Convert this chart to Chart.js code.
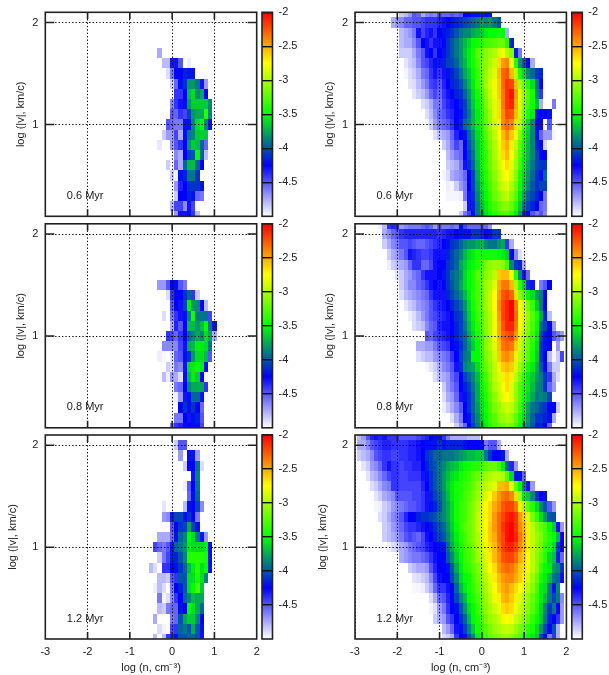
<!DOCTYPE html>
<html lang="en">
<head>
<meta charset="UTF-8">
<title>Velocity vs density</title>
<style>
    body { margin: 0; background: #fff; }
    canvas { position: absolute; }
</style>
</head>
<body>
<script src="https://cdn.jsdelivr.net/npm/chart.js"></script>
<script>
// log |v| of each row, top to bottom. Every row below is [first log n, values at 0.1 steps...]
const vBins = [2.1, 2.0, 1.9, 1.8, 1.7, 1.6, 1.5, 1.4, 1.3, 1.2, 1.1, 1.0, 0.9, 0.8, 0.7, 0.6, 0.5, 0.4, 0.3, 0.2, 0.1];
const nTicks = [-3, -2, -1, 0, 1, 2];
const vTicks = [1, 2];
const colorTicks = [-2, -2.5, -3, -3.5, -4, -4.5];
const paletteStops = [-5, -4.25, -3.5, -2.75, -2];
const paletteColors = [[255, 255, 255], [0, 0, 255], [0, 255, 0], [255, 255, 0], [255, 0, 0]];
const timeLabels = ['0.6 Myr', '0.8 Myr', '1.2 Myr'];

const left06 = [
    [], [], [], [],
    [-0.3, -4.75],
    [-0.2, -4.8, -4.8, -4.3, -4.3, -4.5, null, -4.95],
    [-0.1, -4.9, -4.6, -4.25, -4.25, -4.15, -4.2, -4.2],
    [0, -4.85, -4.55, -4.2, -4.1, -3.8, -3.8, -3.9, -4.3, -4.7],
    [0.1, -4.4, -4.4, -4.25, -3.7, -3.6, -3.85, -3.75, -4.25],
    [0, -4.65, -4.4, -4.3, -4.2, -3.8, -3.65, -3.65, -3.65, -3.65, -3.85],
    [0, -4.5, -4.55, -4.4, -4.45, -4.05, -3.8, -3.75, -3.75, -3.4, -3.85],
    [-0.1, -4.5, -4.55, -4.6, -4.6, -4.2, -4.2, -3.85, -3.6, -3.5, -3.85, -4.2],
    [-0.2, -4.85, -4.7, -4.7, -4.45, -4.75, -4.2, -3.9, -3.85, -3.65, -3.65, -3.65],
    [-0.3, -4.93, null, null, -4.7, -4.5, -4.4, -4.25, -3.8, -3.65, -3.7, -3.95, -4.55],
    [0.1, -4.65, -4.75, -4.25, -4.05, -4.0, -3.5, -3.95, -4.8],
    [-0.1, -4.85, null, -4.55, -4.75, -3.95, -3.7, -3.7, -3.95, -4.25],
    [0, -4.85, -4.95, -4.2, -4.15, -3.9, -3.9, -4.1],
    [0.1, -4.7, -4.35, -4.25, -4.1, -4.1, -4.1, -4.2],
    [0.1, -4.85, -4.25, -4.25, -4.15, -4.2, -4.55, -4.6],
    [0, -4.8, -4.45, -4.45, -4.65, -4.3, -4.45],
    [0.1, -4.7, -4.3, -4.3, -4.2, -4.4, -4.8]
];
const right06 = [
    [-1.9, -4.85, -4.8, -4.7, -4.5, -4.55, -4.75, -4.65, -4.6, -4.65, -4.5, -4.55, -4.55, -4.5, -4.55, -4.5, -4.25, -4.25, -4.2, -4.2, -4.15, -4.2, -4.2],
    [-2.1, -4.75, -4.7, -4.65, -4.55, -4.55, -4.5, -4.5, -4.45, -4.4, -4.4, -4.4, -4.35, -4.3, -4.25, -4.2, -4.15, -4.1, -4.05, -4.0, -3.95, -3.9, -3.8, -3.85, -3.8, -3.9, -4.0],
    [-1.9, -4.8, -4.75, -4.7, -4.6, -4.3, -4.45, -4.35, -4.3, -4.4, -4.25, -4.2, -4.15, -4.1, -4.0, -3.9, -3.85, -3.85, -3.75, -3.7, -3.65, -3.55, -3.5, -3.5, -3.45, -3.5, -4.75],
    [-1.9, -4.8, -4.75, -4.75, -4.65, -4.5, -4.25, -4.3, -4.4, -4.3, -4.3, -4.25, -4.1, -4.0, -3.9, -3.8, -3.7, -3.6, -3.5, -3.45, -3.4, -3.3, -3.3, -3.25, -3.2, -3.2, -3.4, -4.15],
    [-1.9, -4.85, -4.85, -4.85, -4.75, -4.6, -4.5, -4.3, -4.25, -4.4, -4.25, -4.2, -4.1, -4.0, -3.9, -3.8, -3.65, -3.55, -3.45, -3.25, -3.2, -3.1, -3.05, -3.0, -2.85, -2.8, -3.0, -3.1, -4.15, -4.6],
    [-1.8, -4.92, -4.85, -4.8, -4.65, -4.5, -4.45, -4.35, -4.2, -4.3, -4.15, -4.05, -4.05, -3.95, -3.8, -3.7, -3.55, -3.45, -3.3, -3.15, -3.1, -3.0, -2.9, -2.65, -2.45, -2.4, -2.75, -3.4, -3.8, -4.0, -4.25, -4.75],
    [-1.8, -4.97, -4.9, -4.85, -4.75, -4.6, -4.55, -4.4, -4.3, -4.4, -4.3, -4.2, -4.15, -4.05, -3.9, -3.75, -3.65, -3.5, -3.35, -3.2, -3.05, -2.95, -2.85, -2.55, -2.3, -2.25, -2.55, -2.95, -3.4, -3.6, -3.85, -3.95, -4.1, -4.15],
    [-1.7, -4.92, -4.9, -4.8, -4.7, -4.6, -4.45, -4.4, -4.5, -4.35, -4.25, -4.15, -4.1, -4.0, -3.85, -3.7, -3.55, -3.35, -3.2, -3.05, -2.9, -2.8, -2.6, -2.3, -2.15, -2.2, -2.55, -3.0, -3.2, -3.4, -3.6, -3.9, -4.25],
    [-1.6, -4.92, -4.85, -4.8, -4.7, -4.55, -4.45, -4.55, -4.4, -4.3, -4.25, -4.15, -4.1, -3.95, -3.8, -3.6, -3.45, -3.3, -3.1, -2.95, -2.8, -2.6, -2.35, -2.15, -2.05, -2.45, -2.85, -3.05, -3.25, -3.45, -3.85, -4.4],
    [-1.4, -4.9, -4.85, -4.75, -4.6, -4.6, -4.45, -4.35, -4.3, -4.25, -4.15, -4.05, -3.85, -3.65, -3.5, -3.35, -3.15, -3.0, -2.85, -2.65, -2.35, -2.15, -2.1, -2.5, -2.85, -3.1, -3.3, -3.45, -3.7, -4.75, null, null, -4.6],
    [-1.3, -4.9, -4.8, -4.65, -4.55, -4.5, -4.4, -4.35, -4.25, -4.2, -4.05, -3.9, -3.7, -3.55, -3.4, -3.2, -3.05, -2.85, -2.65, -2.4, -2.2, -2.25, -2.55, -2.9, -3.15, -3.4, -3.55, -4.2, -4.25, -4.25, -4.2],
    [-1.3, -4.97, -4.85, -4.7, -4.6, -4.55, -4.5, -4.4, -4.25, -4.15, -3.95, -3.85, -3.7, -3.55, -3.4, -3.2, -3.05, -2.9, -2.7, -2.4, -2.3, -2.4, -2.65, -2.95, -3.25, -3.6, -3.85, -4.25, -4.25, null, -4.5],
    [-1.1, -4.9, -4.8, -4.75, -4.7, -4.55, -4.35, -4.25, -4.2, -3.95, -3.8, -3.6, -3.45, -3.25, -3.1, -2.95, -2.75, -2.55, -2.4, -2.6, -2.8, -3.1, -3.4, -3.65, -3.85, -4.2, -4.55, -4.7, -4.7, -4.97],
    [-0.9, -4.85, -4.75, -4.6, -4.45, -4.55, -4.25, -4.0, -3.85, -3.65, -3.5, -3.3, -3.15, -3.0, -2.8, -2.6, -2.5, -2.7, -2.95, -3.2, -3.45, -3.7, -3.85, -4.15, -4.25, -4.88],
    [-0.8, -4.8, -4.7, -4.6, -4.55, -4.25, -4.05, -3.9, -3.65, -3.5, -3.35, -3.2, -3.0, -2.85, -2.65, -2.55, -2.75, -3.0, -3.25, -3.5, -3.7, -3.85, -4.05, -4.25, -4.25],
    [-0.8, -4.85, -4.8, -4.75, -4.6, -4.3, -4.1, -3.95, -3.7, -3.5, -3.35, -3.2, -3.05, -2.9, -2.75, -2.65, -2.85, -3.05, -3.3, -3.55, -3.75, -3.9, -4.05, -4.1, -4.1],
    [-0.9, -4.97, -4.9, -4.75, -4.7, -4.65, -4.55, -4.25, -4.05, -3.75, -3.55, -3.4, -3.25, -3.1, -2.95, -2.8, -2.75, -2.9, -3.1, -3.4, -3.6, -3.8, -3.95, -4.1, -4.2, -3.95],
    [-0.8, -4.95, -4.97, -4.85, -4.7, -4.6, -4.25, -4.05, -3.8, -3.6, -3.45, -3.3, -3.15, -3.0, -2.9, -2.85, -3.0, -3.15, -3.45, -3.65, -3.85, -4.0, -4.1, -4.05, -4.05],
    [-0.8, -4.97, -4.97, -4.97, -4.95, -4.6, -4.3, -4.1, -3.85, -3.65, -3.5, -3.35, -3.2, -3.1, -3.0, -2.95, -3.1, -3.25, -3.55, -3.75, -3.95, -4.05, -4.15, -4.25, -4.6],
    [-0.4, -4.85, -4.3, -4.15, -3.9, -3.7, -3.55, -3.4, -3.3, -3.2, -3.1, -3.1, -3.2, -3.4, -3.65, -3.9, -4.05, -4.15, -4.25, -4.55, -4.6],
    [-0.5, -4.85, -4.6, -4.45, -4.2, -3.9, -3.75, -3.6, -3.5, -3.4, -3.3, -3.25, -3.25, -3.35, -3.55, -3.8, -4.15, -4.25, -4.5, -4.6, -4.5, -4.65]
];
const left08 = [
    [], [], [], [], [], [],
    [-0.3, -4.7, -4.7, -4.5, -4.25, -4.2, -4.5, -4.6],
    [-0.1, -4.9, -4.4, -4.25, -4.25, -4.1, -3.95, -4.4, -4.85],
    [0, -4.5, -4.25, -4.3, -4.05, -3.55, -3.8, -3.85, -4.25, -4.8],
    [-0.2, -4.9, null, -4.6, -4.4, -4.3, -4.2, -3.85, -3.45, -3.9, -3.9, -3.9, -4.45],
    [0, -4.75, -4.35, -4.5, -4.25, -3.7, -3.7, -3.8, -3.7, -3.5, -3.9, -4.2],
    [-0.1, -4.4, -4.45, -4.55, -4.4, -4.25, -3.95, -3.85, -3.75, -3.85, -3.6, -3.75, -4.75],
    [-0.2, -4.65, -4.65, -4.65, -4.65, -4.45, -4.3, -3.75, -3.7, -3.55, -3.55, -3.6, -3.9],
    [-0.3, -4.95, -4.98, null, -4.9, -4.55, -4.5, -4.2, -4.1, -3.8, -3.6, -3.6, -3.7, -4.5],
    [-0.1, -4.85, -4.9, -4.6, -4.65, -4.3, -3.6, -3.55, -3.5, -3.55, -4.2],
    [-0.2, -4.8, -4.95, -4.7, -4.75, -4.9, -4.2, -3.7, -3.55, -3.65, -4.25, -4.97],
    [0.1, -4.6, -4.55, -4.25, -3.85, -3.75, -3.75, -3.75, -4.4],
    [0.1, -4.95, -4.7, -4.3, -4.2, -3.95, -3.95, -4.2, -4.97],
    [0.2, -4.25, -4.1, -4.2, -4.1, -4.25, -4.55],
    [0.1, -4.6, -4.6, -4.25, -4.3, -4.2, -4.15, -4.5],
    [0, -4.6, -4.4, -4.35, -4.2, -4.25, -4.2, -4.2, -4.45]
];
const right08 = [
    [-2.4, -4.95, -4.8, -4.4, -4.35, -4.4, -4.7, -4.65, -4.6, -4.6, -4.6, -4.55, -4.5, -4.55, -4.7, -4.55, -4.6, -4.6, -4.55, -4.6, -4.2, -4.45, -4.55, -4.55, -4.55, -4.5, -4.55, -4.7],
    [-2.3, -4.75, -4.65, -4.55, -4.5, -4.4, -4.35, -4.35, -4.35, -4.35, -4.35, -4.35, -4.35, -4.35, -4.4, -4.35, -4.3, -4.3, -4.25, -4.2, -4.2, -4.2, -4.1, -4.1, -4.15, -4.25, -4.2, -4.1, -4.1],
    [-2.3, -4.85, -4.75, -4.65, -4.6, -4.5, -4.5, -4.45, -4.5, -4.55, -4.55, -4.5, -4.45, -4.4, -4.35, -4.25, -4.2, -4.1, -4.05, -3.95, -3.85, -3.8, -3.8, -3.75, -3.7, -3.85, -3.9, -3.9, -3.8, -3.75, -4.4, -4.75],
    [-2.2, -4.85, -4.75, -4.7, -4.6, -4.5, -4.3, -4.35, -4.4, -4.45, -4.45, -4.4, -4.3, -4.3, -4.3, -4.15, -4.05, -3.95, -3.85, -3.7, -3.6, -3.55, -3.45, -3.45, -3.45, -3.45, -3.45, -3.5, -3.55, -3.65, -4.25, -4.65, -4.9],
    [-2.2, -4.95, -4.85, -4.8, -4.75, -4.7, -4.55, -4.4, -4.4, -4.55, -4.55, -4.45, -4.3, -4.25, -4.25, -4.1, -4.05, -3.95, -3.75, -3.65, -3.55, -3.5, -3.4, -3.3, -3.15, -3.1, -3.05, -3.05, -3.1, -3.3, -3.85, -4.1, -4.15, -4.75],
    [-2.0, -4.92, -4.85, -4.75, -4.7, -4.6, -4.55, -4.4, -4.3, -4.3, -4.3, -4.25, -4.2, -4.1, -3.95, -3.9, -3.8, -3.6, -3.5, -3.4, -3.25, -3.25, -3.1, -3.05, -2.95, -2.6, -2.55, -2.55, -2.8, -3.4, -3.85, -4.3, -4.55],
    [-1.9, -4.85, -4.75, -4.65, -4.65, -4.55, -4.5, -4.4, -4.3, -4.25, -4.3, -4.25, -4.1, -4.0, -3.9, -3.75, -3.6, -3.5, -3.4, -3.3, -3.2, -3.05, -3.0, -2.85, -2.5, -2.35, -2.35, -2.55, -3.0, -3.35, -3.6, -4.1, -4.3, null, -4.6, -4.5, -4.25],
    [-1.9, -4.9, -4.8, -4.75, -4.7, -4.65, -4.6, -4.55, -4.4, -4.3, -4.3, -4.3, -4.15, -4.05, -3.95, -3.85, -3.7, -3.55, -3.4, -3.3, -3.2, -3.05, -2.95, -2.75, -2.45, -2.25, -2.2, -2.3, -2.65, -3.1, -3.25, -3.5, -3.6, -3.8, -3.9, -4.25],
    [-1.8, -4.92, -4.85, -4.8, -4.7, -4.65, -4.6, -4.5, -4.4, -4.35, -4.3, -4.25, -4.15, -4.05, -3.95, -3.8, -3.6, -3.45, -3.3, -3.2, -3.05, -2.95, -2.75, -2.4, -2.2, -2.1, -2.0, -2.35, -2.75, -2.9, -3.15, -3.35, -3.65, -3.9, -4.25],
    [-1.7, -4.95, -4.9, -4.8, -4.7, -4.6, -4.5, -4.45, -4.4, -4.35, -4.3, -4.25, -4.1, -4.05, -3.85, -3.65, -3.5, -3.35, -3.25, -3.1, -3.0, -2.8, -2.45, -2.2, -2.1, -2.0, -2.3, -2.75, -2.85, -3.05, -3.25, -3.45, -3.75, -4.15, -4.8],
    [-1.6, -4.9, -4.85, -4.8, -4.65, -4.55, -4.5, -4.35, -4.3, -4.3, -4.25, -4.15, -4.05, -3.9, -3.7, -3.55, -3.4, -3.25, -3.1, -3.0, -2.8, -2.5, -2.25, -2.1, -2.1, -2.35, -2.75, -2.9, -3.1, -3.3, -3.5, -3.95, -4.05, -4.25, -4.7],
    [-1.3, -4.5, -4.55, -4.45, -4.4, -4.35, -4.3, -4.25, -4.15, -4.05, -3.95, -3.75, -3.6, -3.45, -3.3, -3.1, -3.0, -2.8, -2.5, -2.3, -2.25, -2.2, -2.45, -2.85, -2.95, -3.15, -3.35, -3.55, -4.05, -4.2, -4.25, -4.5, -4.6, -4.7],
    [-1.5, -4.75, -4.75, -4.7, -4.7, -4.6, -4.5, -4.45, -4.4, -4.25, -4.2, -4.1, -3.95, -3.8, -3.65, -3.5, -3.3, -3.1, -3.0, -2.85, -2.55, -2.35, -2.3, -2.35, -2.6, -2.9, -3.05, -3.2, -3.4, -3.6, -4.1, -4.2, -4.25, null, -4.7],
    [-1.5, -4.9, -4.85, -4.8, -4.8, -4.7, -4.65, -4.6, -4.55, -4.4, -4.25, -4.05, -3.9, -3.85, -3.5, -3.5, -3.35, -3.15, -3.05, -2.9, -2.6, -2.45, -2.4, -2.5, -2.7, -2.95, -3.1, -3.25, -3.45, -3.65, -4.1, -4.25, -4.8, -4.97, -4.85, -4.45],
    [-1.3, -4.97, -4.92, -4.85, -4.75, -4.65, -4.6, -4.5, -4.3, -4.1, -3.85, -3.8, -3.75, -3.6, -3.35, -3.2, -3.1, -2.95, -2.7, -2.6, -2.55, -2.6, -2.85, -3.05, -3.2, -3.4, -3.55, -3.75, -4.0, -4.25, -4.6, -4.85, -4.85],
    [-1.1, -4.9, -4.8, -4.75, -4.7, -4.55, -4.45, -4.25, -4.05, -3.95, -3.85, -3.7, -3.45, -3.3, -3.15, -2.95, -2.85, -2.7, -2.65, -2.7, -2.95, -3.15, -3.35, -3.55, -3.65, -3.8, -3.9, -4.1, -4.4, -4.75, -4.9],
    [-0.9, -4.85, -4.7, -4.6, -4.5, -4.25, -4.15, -4.05, -3.9, -3.75, -3.5, -3.35, -3.2, -3.0, -2.9, -2.75, -2.65, -2.85, -3.05, -3.25, -3.4, -3.55, -3.7, -3.85, -3.9, -4.1, -4.55, -4.7],
    [-0.9, -4.9, -4.75, -4.7, -4.55, -4.3, -4.2, -4.1, -3.95, -3.75, -3.55, -3.4, -3.25, -3.1, -2.95, -2.8, -2.75, -2.85, -3.05, -3.25, -3.45, -3.6, -3.75, -3.9, -3.85, -3.9, -4.05],
    [-0.9, -4.95, -4.85, -4.75, -4.65, -4.5, -4.25, -4.1, -3.95, -3.8, -3.6, -3.45, -3.3, -3.15, -3.05, -2.95, -2.9, -2.95, -3.1, -3.3, -3.55, -3.75, -3.9, -3.95, -4.05, -4.1, -4.25, -4.25, -4.85],
    [-0.7, -4.9, -4.75, -4.6, -4.25, -4.2, -4.0, -3.85, -3.65, -3.5, -3.35, -3.25, -3.1, -3.05, -3.0, -3.05, -3.2, -3.4, -3.6, -3.8, -3.95, -4.1, -4.1, -4.15, -4.2, -4.75],
    [-0.6, -4.85, -4.7, -4.55, -4.25, -4.05, -3.9, -3.7, -3.55, -3.4, -3.3, -3.2, -3.15, -3.1, -3.15, -3.3, -3.5, -3.7, -3.85, -4.0, -4.2, -4.15, -4.25, -4.55]
];
const left12 = [
    [],
    [0.1, -4.85, -4.5, -4.5],
    [0.2, -4.7, null, -4.2, -4.2, -4.7],
    [0.3, -4.85, -4.25, -4.25, -3.9, -4.9],
    [0.5, -4.3, -3.85],
    [0.3, -4.95, -4.5, -4.25, -3.9],
    [0.4, -4.55, -4.2, -3.95],
    [-0.2, -4.92, null, null, null, null, -4.8, -4.2, -4.25, -4.05, -4.65],
    [-0.2, -4.7, -4.65, -4.3, -4.05, -4.05, -4.2, -4.1, -4.25, -4.6],
    [0, -4.5, -4.25, -4.1, -4.05, -3.75, -4.05, -4.2],
    [-0.3, -4.75, -4.75, -4.75, -4.55, -4.2, -3.95, -3.85, -3.5, -3.6, -3.9, -4.3, -4.7],
    [-0.4, -4.45, -4.55, -4.6, -4.5, -4.3, -3.95, -3.9, -3.8, -3.55, -3.6, -3.6, -3.6, -3.55, -4.2],
    [-0.3, -4.85, -4.6, -4.45, -4.15, -4.15, -4.0, -3.85, -3.4, -3.4, -3.4, -3.4, -3.45, -4.2],
    [-0.5, -4.8, -4.9, null, -4.4, -4.4, -4.25, -4.2, -4.1, -3.95, -3.7, -3.55, -3.4, -3.6, -3.5, -4.2],
    [-0.3, -4.8, -4.8, -4.85, -4.5, -4.4, -4.0, -4.0, -3.6, -3.6, -3.45, -3.6, -3.85],
    [-0.4, -4.95, -4.8, -4.9, null, -4.6, -4.25, -4.15, -4.0, -3.6, -3.5, -3.3, -3.65],
    [-0.3, -4.6, -4.97, -4.9, -4.65, -4.4, -4.25, -3.95, -3.85, -3.7, -3.75, -3.75],
    [-0.3, -4.8, -4.85, -4.6, -4.55, -4.55, -4.2, -4.25, -3.5, -3.6, -3.75, -3.95],
    [-0.4, -4.75, null, null, null, -4.6, -4.55, -4.0, -3.75, -3.65, -3.65, -3.85, -4.25],
    [-0.3, -4.9, -4.97, null, -4.45, -4.4, -3.95, -3.9, -4.0, -3.75, -4.0, -4.2],
    [-0.4, -4.8, null, -4.8, -4.4, -4.35, -4.2, -4, -4, -3.95, -3.95, -4.0, -4.3]
];
const right12 = [
    [-2.9, -4.8, -4.7, -4.5, -4.35, -4.3, -4.35, -4.3, -4.4, -4.4, -4.4, -4.5, -4.5, -4.5, -4.5, -4.45, -4.4, -4.35, -4.25, -4.2, -4.2, -4.4, -4.6, -4.75, -4.75, -4.75, -4.75, -4.8, -4.8, -4.8],
    [-2.9, -4.75, -4.75, -4.65, -4.5, -4.45, -4.4, -4.35, -4.35, -4.4, -4.4, -4.4, -4.4, -4.35, -4.35, -4.3, -4.25, -4.2, -4.2, -4.2, -4.1, -4.2, -4.15, -4.15, -4.15, -4.15, -4.2, -4.25, -4.25, -4.25, -4.25, -4.6, -4.5, -4.5, -4.75],
    [-2.9, -4.85, -4.8, -4.75, -4.65, -4.5, -4.45, -4.4, -4.4, -4.45, -4.45, -4.4, -4.4, -4.35, -4.35, -4.3, -4.25, -4.1, -4.05, -3.95, -3.95, -3.9, -3.9, -3.9, -3.85, -3.8, -3.75, -3.7, -3.7, -3.65, -3.65, -3.9, -4.1, -4.25, -4.25, -4.2, -4.75],
    [-2.8, -4.92, -4.85, -4.7, -4.65, -4.55, -4.4, -4.3, -4.4, -4.4, -4.45, -4.4, -4.4, -4.35, -4.35, -4.25, -4.15, -4.05, -4.0, -3.9, -3.85, -3.75, -3.7, -3.65, -3.55, -3.5, -3.45, -3.4, -3.4, -3.3, -3.25, -3.2, -3.2, -3.3, -3.55, -3.95, -4.35, -4.7],
    [-2.7, -4.92, -4.8, -4.75, -4.65, -4.55, -4.45, -4.4, -4.4, -4.45, -4.45, -4.4, -4.4, -4.4, -4.3, -4.2, -4.1, -4.0, -3.9, -3.8, -3.7, -3.6, -3.55, -3.45, -3.4, -3.35, -3.25, -3.2, -3.1, -3.05, -3.0, -2.95, -2.95, -3.0, -3.25, -3.6, -4.2, -4.2, -4.55],
    [-2.6, -4.9, -4.85, -4.75, -4.65, -4.6, -4.4, -4.4, -4.45, -4.45, -4.45, -4.45, -4.45, -4.35, -4.25, -4.1, -4.0, -3.9, -3.8, -3.65, -3.55, -3.45, -3.4, -3.35, -3.3, -3.2, -3.1, -3.0, -2.95, -2.9, -2.85, -2.55, -2.55, -2.5, -2.85, -3.2, -3.5, -3.85, -4.3, -4.7],
    [-2.5, -4.92, -4.85, -4.75, -4.7, -4.65, -4.5, -4.5, -4.5, -4.5, -4.45, -4.45, -4.4, -4.3, -4.15, -4.05, -3.95, -3.85, -3.7, -3.55, -3.45, -3.4, -3.3, -3.25, -3.15, -3.05, -2.95, -2.85, -2.75, -2.6, -2.45, -2.35, -2.3, -2.4, -2.65, -3.0, -3.55, -3.65, -3.85, -4.1, -4.25, -4.2],
    [-2.5, -4.97, -4.95, -4.85, -4.8, -4.7, -4.65, -4.6, -4.55, -4.5, -4.5, -4.45, -4.4, -4.3, -4.2, -4.15, -4.0, -3.85, -3.75, -3.6, -3.45, -3.35, -3.3, -3.2, -3.1, -3.0, -2.85, -2.75, -2.65, -2.5, -2.4, -2.25, -2.2, -2.2, -2.35, -2.7, -3.0, -3.2, -3.4, -3.6, -3.85, -4.0, -4.5, -4.7],
    [-2.4, -4.9, -4.85, -4.75, -4.65, -4.6, -4.5, -4.35, -4.25, -4.25, -4.15, -4.1, -4.1, -4.05, -4.0, -3.9, -3.85, -3.75, -3.6, -3.45, -3.35, -3.3, -3.2, -3.1, -2.95, -2.85, -2.75, -2.65, -2.45, -2.3, -2.2, -2.1, -2.05, -2.15, -2.45, -2.6, -2.85, -3.15, -3.35, -3.6, -3.8, -4.0, -4.0],
    [-2.3, -4.85, -4.8, -4.7, -4.65, -4.55, -4.45, -4.4, -4.4, -4.35, -4.3, -4.25, -4.2, -4.1, -4.0, -3.95, -3.8, -3.65, -3.5, -3.35, -3.25, -3.2, -3.1, -2.95, -2.85, -2.75, -2.6, -2.45, -2.3, -2.15, -2.05, -2.0, -2.15, -2.4, -2.55, -2.7, -2.95, -3.1, -3.2, -3.3, -3.5, -3.65, -4.3, -4.7],
    [-2.3, -4.85, -4.8, -4.75, -4.7, -4.6, -4.5, -4.45, -4.5, -4.55, -4.45, -4.3, -4.25, -4.15, -4.05, -4.0, -3.85, -3.7, -3.55, -3.4, -3.3, -3.2, -3.1, -3.0, -2.85, -2.75, -2.6, -2.5, -2.3, -2.2, -2.05, -2.0, -2.1, -2.35, -2.5, -2.7, -2.95, -3.05, -3.15, -3.3, -3.4, -3.5, -3.7, -4.25],
    [-2.2, -4.95, -4.9, -4.85, -4.75, -4.7, -4.6, -4.55, -4.5, -4.45, -4.35, -4.3, -4.25, -4.2, -4.2, -3.95, -3.75, -3.6, -3.45, -3.3, -3.25, -3.15, -3.0, -2.9, -2.8, -2.65, -2.55, -2.35, -2.2, -2.1, -2.1, -2.2, -2.4, -2.55, -2.7, -2.95, -3.05, -3.2, -3.35, -3.45, -3.6, -4.05, -4.25],
    [-1.9, -4.75, -4.7, -4.65, -4.6, -4.6, -4.55, -4.5, -4.4, -4.3, -4.25, -4.25, -4.0, -3.85, -3.65, -3.5, -3.35, -3.3, -3.2, -3.05, -2.95, -2.85, -2.7, -2.55, -2.4, -2.25, -2.2, -2.2, -2.3, -2.5, -2.6, -2.75, -2.95, -3.1, -3.25, -3.4, -3.6, -3.7, -4.15, -4.55],
    [-1.7, -4.85, -4.8, -4.75, -4.75, -4.7, -4.5, -4.35, -4.25, -4.25, -4.2, -4.0, -3.75, -3.55, -3.4, -3.35, -3.25, -3.15, -3.0, -2.9, -2.75, -2.65, -2.45, -2.35, -2.3, -2.35, -2.45, -2.6, -2.65, -2.8, -2.95, -3.1, -3.35, -3.5, -3.55, -3.8, -3.85, -4.1],
    [-1.6, -4.92, -4.9, -4.85, -4.8, -4.65, -4.45, -4.3, -4.25, -4.25, -4.05, -3.85, -3.6, -3.5, -3.45, -3.3, -3.2, -3.05, -2.95, -2.85, -2.7, -2.55, -2.45, -2.4, -2.4, -2.5, -2.6, -2.7, -2.85, -3.05, -3.2, -3.45, -3.55, -3.7, -3.9, -3.95, -4.2],
    [-1.6, -4.98, -4.97, -4.95, -4.85, -4.75, -4.55, -4.4, -4.4, -4.3, -4.25, -3.95, -3.7, -3.55, -3.45, -3.35, -3.25, -3.1, -3.0, -2.9, -2.75, -2.6, -2.5, -2.45, -2.55, -2.65, -2.75, -2.85, -2.95, -3.1, -3.3, -3.55, -3.6, -3.9, -4.2, -3.85],
    [-1.2, -4.9, -4.75, -4.55, -4.5, -4.35, -4.25, -4.05, -3.85, -3.7, -3.5, -3.4, -3.3, -3.15, -3.05, -2.95, -2.8, -2.7, -2.55, -2.5, -2.6, -2.7, -2.85, -2.95, -3.05, -3.2, -3.35, -3.55, -3.7, -3.9, -4.05, -3.9, -4.65],
    [-1.2, -4.97, -4.9, -4.7, -4.6, -4.4, -4.25, -4.2, -4.0, -3.8, -3.6, -3.5, -3.35, -3.2, -3.1, -3.0, -2.9, -2.8, -2.65, -2.6, -2.65, -2.8, -2.9, -3.0, -3.1, -3.25, -3.4, -3.6, -3.85, -4.1, -3.9, -4.25, -4.7],
    [-1.1, -4.85, -4.75, -4.7, -4.5, -4.4, -4.25, -4.1, -3.95, -3.7, -3.5, -3.4, -3.3, -3.15, -3.05, -3.0, -2.9, -2.8, -2.75, -2.8, -2.9, -3.0, -3.1, -3.2, -3.35, -3.5, -3.65, -3.9, -4.15, -4.25, -4.4, -4.7],
    [-0.9, -4.8, -4.7, -4.55, -4.3, -4.2, -4.05, -3.85, -3.65, -3.45, -3.35, -3.25, -3.15, -3.05, -3.0, -2.95, -2.9, -2.95, -3.05, -3.15, -3.2, -3.35, -3.45, -3.6, -3.8, -4.05, -4.25, -4.0, -4.75],
    [-0.9, -4.9, -4.85, -4.75, -4.4, -4.25, -4.2, -4.0, -3.85, -3.55, -3.4, -3.3, -3.2, -3.15, -3.1, -3.05, -3.05, -3.1, -3.2, -3.25, -3.3, -3.45, -3.55, -3.65, -4.05, -4.25, -4.6, -4.4, -4.75]
];

// panel order: row by row, left column then right column
const panelRows = [left06, right06, left08, right08, left12, right12];

const inkColor = '#222';
const fontSpec = { family: '"Liberation Sans", Arial, sans-serif', size: 11 };
const rowTops = [12.3, 223.8, 435];
const plotH = 204;
const plotW = 211.4;

function valueColor(v) {
    let i = 0;
    while (i < paletteStops.length - 2 && v > paletteStops[i + 1]) i++;
    const t = Math.min(1, Math.max(0, (v - paletteStops[i]) / (paletteStops[i + 1] - paletteStops[i])));
    const a = paletteColors[i], b = paletteColors[i + 1];
    return `rgb(${a.map((c, k) => Math.round(c + (b[k] - c) * t)).join(',')})`;
}

function cellPoints(rows) {
    const pts = [];
    rows.forEach((row, r) => {
        row.slice(1).forEach((v, i) => {
            if (v !== null) pts.push({ x: row[0] + i * 0.1, y: vBins[r], v: v });
        });
    });
    return pts;
}

// axes must not reserve room for half a label, the frames sit at fixed places
function noScalePadding(s) {
    s.paddingTop = 0;
    s.paddingBottom = 0;
    s.paddingLeft = 0;
    s.paddingRight = 0;
}

// draws one coloured cell per data point, through the chart scales
const cellPlugin = {
    id: 'cells',
    beforeDatasetsDraw(chart) {
        const { ctx, chartArea: a, scales: { x, y } } = chart;
        ctx.save();
        ctx.beginPath();
        ctx.rect(a.left, a.top, a.width, a.height);
        ctx.clip();
        chart.data.datasets[0].data.forEach(p => {
            const x0 = Math.round(x.getPixelForValue(p.x - 0.05));
            const x1 = Math.round(x.getPixelForValue(p.x + 0.05));
            const y0 = Math.round(y.getPixelForValue(p.y + 0.05));
            const y1 = Math.round(y.getPixelForValue(p.y - 0.05));
            ctx.fillStyle = valueColor(p.v);
            ctx.fillRect(x0, y0, x1 - x0, y1 - y0);
        });
        ctx.restore();
    }
};

// gnuplot style frame with inward ticks, plus the time label
const framePlugin = {
    id: 'frame',
    afterDraw(chart, args, opts) {
        const { ctx, chartArea: a, scales: { x, y } } = chart;
        ctx.save();
        ctx.strokeStyle = inkColor;
        ctx.lineWidth = 1.6;
        ctx.beginPath();
        nTicks.slice(1, -1).forEach(t => {
            const px = x.getPixelForValue(t);
            ctx.moveTo(px, a.top); ctx.lineTo(px, a.top + 7);
            ctx.moveTo(px, a.bottom); ctx.lineTo(px, a.bottom - 7);
        });
        vTicks.forEach(t => {
            const py = y.getPixelForValue(t);
            ctx.moveTo(a.left, py); ctx.lineTo(a.left + 9, py);
            ctx.moveTo(a.right, py); ctx.lineTo(a.right - 9, py);
        });
        ctx.stroke();
        ctx.strokeRect(a.left, a.top, a.width, a.height);
        ctx.fillStyle = inkColor;
        ctx.font = `${fontSpec.size}px ${fontSpec.family}`;
        ctx.textBaseline = 'middle';
        ctx.fillText(opts.label, x.getPixelForValue(-2.49), y.getPixelForValue(0.3));
        ctx.restore();
    }
};

function makeCanvas(left, top, w, h) {
    const c = document.createElement('canvas');
    c.width = w;
    c.height = h;
    c.style.left = left + 'px';
    c.style.top = top + 'px';
    document.body.appendChild(c);
    return c;
}

function drawPanel(rows, col, row) {
    const showX = row === 2;
    const canvasLeft = col === 0 ? 0 : 309;
    const axisW = col === 0 ? 45.3 : 46;
    const canvasW = 264;
    const canvasTop = Math.floor(rowTops[row]) - 2;
    const padTop = rowTops[row] - canvasTop;
    const bottomH = showX ? 36 : 3;
    const canvasH = Math.ceil(padTop + plotH + bottomH);
    const titleCentre = showX ? (col === 0 ? 13 : 14) : (col === 0 ? 20.5 : 21);

    new Chart(makeCanvas(canvasLeft, canvasTop, canvasW, canvasH), {
        type: 'scatter',
        data: { datasets: [{ data: cellPoints(rows), pointRadius: 0 }] },
        plugins: [cellPlugin, framePlugin],
        options: {
            responsive: false,
            animation: false,
            layout: { padding: { top: padTop, right: canvasW - axisW - plotW, bottom: 0, left: 0 } },
            plugins: {
                legend: { display: false },
                tooltip: { enabled: false },
                frame: { label: timeLabels[row] }
            },
            scales: {
                x: {
                    type: 'linear', min: -3, max: 2,
                    afterBuildTicks: s => { s.ticks = nTicks.map(v => ({ value: v })); },
                    afterFit: s => { noScalePadding(s); s.height = canvasH - padTop - plotH; },
                    grid: { z: 1, color: '#000', lineWidth: 1, drawTicks: false },
                    border: { display: false, dash: [1.3, 2.1] },
                    ticks: {
                        display: showX, color: inkColor, font: fontSpec, padding: 6,
                        maxRotation: 0, autoSkip: false, callback: v => String(v)
                    },
                    title: {
                        display: showX, text: 'log (n, cm⁻³)', color: inkColor, font: fontSpec,
                        padding: { top: 0, bottom: 0 }
                    }
                },
                y: {
                    type: 'linear', min: 0.1, max: 2.1,
                    afterBuildTicks: s => { s.ticks = vTicks.map(v => ({ value: v })); },
                    afterFit: s => { noScalePadding(s); s.width = axisW; },
                    grid: { z: 1, color: '#000', lineWidth: 1, drawTicks: false },
                    border: { display: false, dash: [1.3, 2.1] },
                    ticks: { color: inkColor, font: fontSpec, padding: 7, callback: v => String(v) },
                    title: {
                        display: true, text: 'log (|v|, km/c)', color: inkColor, font: fontSpec,
                        padding: { top: titleCentre - 6.6, bottom: 0 }
                    }
                }
            }
        }
    });
}

function colorGradient(ctx) {
    const chart = ctx.chart;
    if (!chart.chartArea) return '#fff';
    const y = chart.scales.y;
    const g = chart.ctx.createLinearGradient(0, y.getPixelForValue(-5), 0, y.getPixelForValue(-2));
    paletteStops.forEach((s, i) => {
        g.addColorStop((s + 5) / 3, `rgb(${paletteColors[i].join(',')})`);
    });
    return g;
}

function drawColorbar(col, row) {
    const canvasLeft = col === 0 ? 260 : 570;
    const canvasW = col === 0 ? 45 : 39;
    const barLeft = col === 0 ? 2 : 1.8;
    const barW = 10.5;
    const canvasTop = Math.floor(rowTops[row]) - 8;
    const padTop = rowTops[row] - canvasTop;
    const canvasH = Math.ceil(padTop + plotH + 3);

    new Chart(makeCanvas(canvasLeft, canvasTop, canvasW, canvasH), {
        type: 'bar',
        data: {
            labels: ['scale'],
            datasets: [{ data: [[-5, -2]], backgroundColor: colorGradient, barPercentage: 1, categoryPercentage: 1 }]
        },
        plugins: [{
            id: 'barFrame',
            afterDraw(chart) {
                const { ctx, chartArea: a } = chart;
                ctx.save();
                ctx.strokeStyle = inkColor;
                ctx.lineWidth = 1.6;
                ctx.strokeRect(a.left, a.top, a.width, a.height);
                ctx.restore();
            }
        }],
        options: {
            responsive: false,
            animation: false,
            layout: { padding: { top: padTop, left: barLeft, bottom: canvasH - padTop - plotH, right: 0 } },
            plugins: { legend: { display: false }, tooltip: { enabled: false } },
            scales: {
                x: { display: false },
                y: {
                    position: 'right', min: -5, max: -2,
                    afterBuildTicks: s => { s.ticks = colorTicks.map(v => ({ value: v })); },
                    afterFit: s => { noScalePadding(s); s.width = canvasW - barLeft - barW; },
                    grid: { z: 1, color: '#111', lineWidth: 1.4, drawTicks: false },
                    border: { display: false },
                    ticks: { color: inkColor, font: fontSpec, padding: 6, autoSkip: false, callback: v => String(v) }
                }
            }
        }
    });
}

panelRows.forEach((rows, i) => {
    const col = i % 2;
    const row = Math.floor(i / 2);
    drawPanel(rows, col, row);
    drawColorbar(col, row);
});
</script>
</body>
</html>
